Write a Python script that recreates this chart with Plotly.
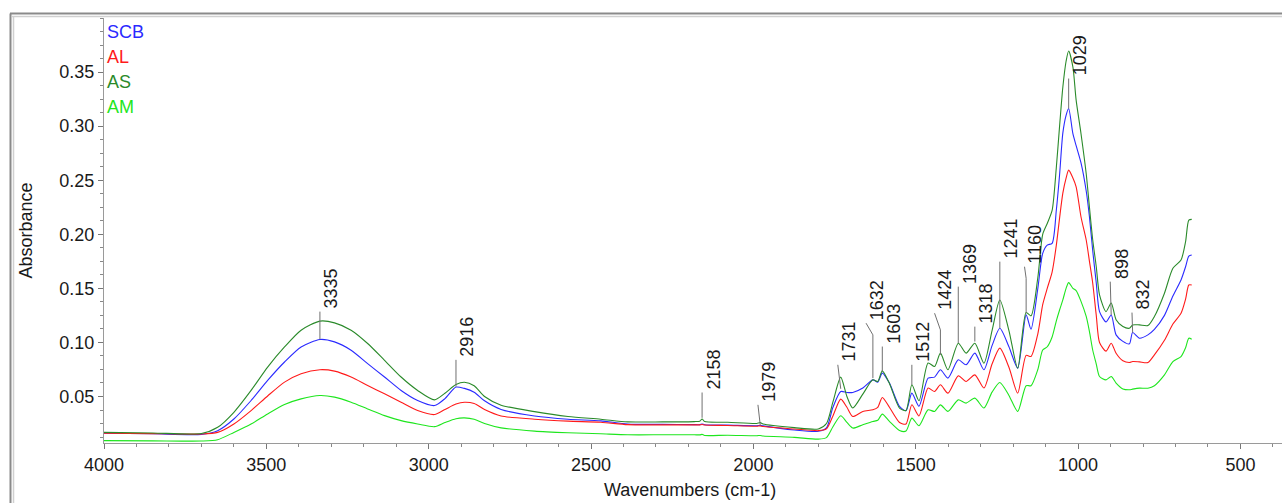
import plotly.graph_objects as go

# ---------------- data ----------------
wavenumber = [4000, 3850, 3700, 3650, 3600, 3547, 3496, 3444, 3393, 3335,
              3290, 3239, 3188, 3136, 3085, 3034, 2982, 2950, 2916, 2890,
              2860, 2828, 2777, 2674, 2571, 2470, 2387, 2280, 2182, 2165,
              2158, 2150, 2079, 1990, 1979, 1970, 1874, 1800, 1775, 1755,
              1731, 1712, 1694, 1663, 1632, 1617, 1603, 1581, 1550, 1530,
              1512, 1490, 1462, 1442, 1424, 1401, 1369, 1345, 1318, 1290,
              1265, 1241, 1213, 1186, 1160, 1145, 1124, 1109, 1095, 1080,
              1067, 1057, 1047, 1037, 1029, 1016, 1006, 991, 975, 965,
              955, 944, 934, 914, 898, 883, 862, 842, 832, 811,
              785, 765, 734, 708, 683, 669, 659, 650]

scb = [0.0160, 0.0155, 0.0150, 0.0184, 0.0292, 0.0463, 0.0649, 0.0819, 0.0958, 0.1027,
       0.1005, 0.0928, 0.0804, 0.0680, 0.0556, 0.0463, 0.0416, 0.0480, 0.0587, 0.0575,
       0.0540, 0.0460, 0.0380, 0.0320, 0.0290, 0.0275, 0.0245, 0.0242, 0.0240, 0.0240,
       0.0246, 0.0238, 0.0235, 0.0230, 0.0233, 0.0228, 0.0190, 0.0178, 0.0210, 0.0400,
       0.0546, 0.0537, 0.0537, 0.0578, 0.0654, 0.0633, 0.0716, 0.0624, 0.0408, 0.0368,
       0.0531, 0.0410, 0.0670, 0.0679, 0.0747, 0.0670, 0.0839, 0.0793, 0.0901, 0.0747,
       0.0970, 0.1131, 0.0960, 0.0762, 0.1255, 0.1122, 0.1500, 0.1824, 0.1900, 0.1916,
       0.2224, 0.2550, 0.2935, 0.3100, 0.3163, 0.2930, 0.2820, 0.2660, 0.2400, 0.2160,
       0.1850, 0.1550, 0.1285, 0.1190, 0.1254, 0.1070, 0.1010, 0.0987, 0.1091, 0.1039,
       0.1070, 0.1120, 0.1250, 0.1430, 0.1578, 0.1700, 0.1799, 0.1808]

al = [0.0160, 0.0157, 0.0153, 0.0168, 0.0246, 0.0370, 0.0505, 0.0633, 0.0711, 0.0748,
      0.0735, 0.0680, 0.0602, 0.0525, 0.0447, 0.0370, 0.0333, 0.0380, 0.0430, 0.0447,
      0.0435, 0.0380, 0.0320, 0.0290, 0.0272, 0.0262, 0.0240, 0.0238, 0.0238, 0.0238,
      0.0241, 0.0236, 0.0232, 0.0225, 0.0228, 0.0222, 0.0200, 0.0184, 0.0200, 0.0320,
      0.0476, 0.0400, 0.0315, 0.0362, 0.0377, 0.0400, 0.0491, 0.0400, 0.0260, 0.0245,
      0.0423, 0.0320, 0.0578, 0.0546, 0.0608, 0.0531, 0.0691, 0.0639, 0.0700, 0.0578,
      0.0800, 0.0947, 0.0770, 0.0531, 0.0880, 0.0870, 0.1080, 0.1350, 0.1500, 0.1650,
      0.1900, 0.2150, 0.2380, 0.2520, 0.2593, 0.2520, 0.2439, 0.2160, 0.1947, 0.1750,
      0.1550, 0.1250, 0.1000, 0.0920, 0.0993, 0.0900, 0.0830, 0.0814, 0.0823, 0.0820,
      0.0814, 0.0885, 0.1020, 0.1170, 0.1270, 0.1400, 0.1531, 0.1531]

as_ = [0.0168, 0.0163, 0.0158, 0.0215, 0.0354, 0.0556, 0.0772, 0.0958, 0.1113, 0.1197,
       0.1181, 0.1113, 0.0990, 0.0835, 0.0680, 0.0556, 0.0469, 0.0530, 0.0610, 0.0632,
       0.0600, 0.0500, 0.0420, 0.0360, 0.0315, 0.0290, 0.0265, 0.0265, 0.0268, 0.0272,
       0.0292, 0.0268, 0.0262, 0.0250, 0.0258, 0.0245, 0.0212, 0.0200, 0.0250, 0.0450,
       0.0679, 0.0500, 0.0393, 0.0522, 0.0654, 0.0639, 0.0737, 0.0620, 0.0393, 0.0371,
       0.0608, 0.0460, 0.0810, 0.0777, 0.0901, 0.0747, 0.0993, 0.0901, 0.0993, 0.0808,
       0.1110, 0.1393, 0.1110, 0.0762, 0.1276, 0.1246, 0.1600, 0.2000, 0.2100, 0.2220,
       0.2620, 0.3000, 0.3360, 0.3600, 0.3695, 0.3547, 0.3240, 0.2930, 0.2560, 0.2250,
       0.1950, 0.1700, 0.1440, 0.1285, 0.1365, 0.1210, 0.1147, 0.1131, 0.1162, 0.1162,
       0.1156, 0.1239, 0.1455, 0.1686, 0.1762, 0.1931, 0.2132, 0.2138]

am = [0.0092, 0.0090, 0.0088, 0.0100, 0.0168, 0.0246, 0.0339, 0.0426, 0.0478, 0.0509,
      0.0494, 0.0447, 0.0385, 0.0323, 0.0277, 0.0246, 0.0221, 0.0260, 0.0295, 0.0302,
      0.0290, 0.0250, 0.0210, 0.0180, 0.0165, 0.0155, 0.0146, 0.0146, 0.0146, 0.0145,
      0.0150, 0.0140, 0.0142, 0.0137, 0.0140, 0.0135, 0.0122, 0.0106, 0.0120, 0.0220,
      0.0322, 0.0260, 0.0208, 0.0239, 0.0269, 0.0280, 0.0337, 0.0270, 0.0186, 0.0180,
      0.0300, 0.0230, 0.0377, 0.0362, 0.0423, 0.0362, 0.0469, 0.0439, 0.0485, 0.0393,
      0.0540, 0.0630, 0.0510, 0.0362, 0.0600, 0.0600, 0.0750, 0.0930, 0.0960, 0.1050,
      0.1200, 0.1300, 0.1393, 0.1500, 0.1553, 0.1500, 0.1480, 0.1380, 0.1240, 0.1100,
      0.0930, 0.0800, 0.0685, 0.0654, 0.0685, 0.0624, 0.0570, 0.0562, 0.0568, 0.0577,
      0.0577, 0.0600, 0.0700, 0.0823, 0.0869, 0.0950, 0.1039, 0.1030]

series_names = ["SCB", "AL", "AS", "AM"]
series_values = [scb, al, as_, am]
series_colors = ["#2a2aff", "#ff1a1a", "#2a8a2a", "#1ee61e"]

# peak labels
peak_labels = ["3335", "2916", "2158", "1979", "1731", "1632", "1603", "1512",
               "1424", "1369", "1318", "1241", "1160", "1029", "898", "832"]
peak_x = [3335, 2916, 2158, 1979, 1731, 1632, 1603, 1512,
          1424, 1369, 1318, 1241, 1160, 1029, 898, 832]
peak_y = [0.1030, 0.0592, 0.0303, 0.0239, 0.0571, 0.0670, 0.0731, 0.0608,
          0.0885, 0.0993, 0.1008, 0.1132, 0.1270, 0.3163, 0.1254, 0.1091]
kink_y = [0.1285, 0.0839, 0.0537, 0.0239, 0.0571, 0.1070, 0.0962, 0.0793,
          0.1116, 0.1516, 0.1146, 0.1747, 0.1593, 0.3440, 0.1254, 0.1091]
top_x = [3335, 2916, 2158, 1986, 1740, 1653, 1603, 1512,
         1442, 1369, 1318, 1241, 1165, 1029, 901, 834]
top_y = [0.1285, 0.0839, 0.0537, 0.0423, 0.0793, 0.1178, 0.0962, 0.0793,
         0.1270, 0.1516, 0.1146, 0.1747, 0.1700, 0.3440, 0.1562, 0.1276]

x_ticks = [4000, 3500, 3000, 2500, 2000, 1500, 1000, 500]
y_ticks = [0.05, 0.10, 0.15, 0.20, 0.25, 0.30, 0.35]

FONT = "Liberation Sans, Arial, sans-serif"

fig = go.Figure()
for name, vals, col in zip(series_names, series_values, series_colors):
    assert len(vals) == len(wavenumber), (name, len(vals), len(wavenumber))
    fig.add_trace(go.Scatter(x=wavenumber, y=vals, mode="lines", name=name,
                             line=dict(color=col, width=1.1, shape="spline", smoothing=0.7),
                             showlegend=False, hoverinfo="x+y+name"))

shapes = []
annotations = []
for lab, px, py, ky, tx, ty in zip(peak_labels, peak_x, peak_y, kink_y, top_x, top_y):
    shapes.append(dict(type="path", xref="x", yref="y",
                       path=f"M {px},{py} L {px},{ky} L {tx},{ty}",
                       line=dict(color="#707070", width=1)))
    annotations.append(dict(x=tx, y=ty, xref="x", yref="y", text=lab, showarrow=False,
                            textangle=-90, xanchor="center", yanchor="bottom",
                            xshift=11, yshift=1,
                            font=dict(family=FONT, size=18, color="#1a1a1a")))

# legend-like coloured labels
L, R, T, B = 104, 0, 18, 60
W, H = 1282, 503
pw, ph = W - L - R, H - T - B
def paper_x(px):
    return (px - L) / pw
def paper_y(py):
    return (H - B - py) / ph

for i, (name, col) in enumerate(zip(series_names, series_colors)):
    annotations.append(dict(x=paper_x(105), y=paper_y(32 + 25 * i), xref="paper", yref="paper",
                            text=name, showarrow=False, xanchor="left", yanchor="middle",
                            font=dict(family=FONT, size=18, color=col)))

annotations.append(dict(x=paper_x(25), y=0.5, xref="paper", yref="paper", text="Absorbance",
                        showarrow=False, textangle=-90, xanchor="center", yanchor="middle",
                        font=dict(family=FONT, size=18, color="#1a1a1a")))
annotations.append(dict(x=paper_x(690), y=paper_y(490), xref="paper", yref="paper",
                        text="Wavenumbers (cm-1)", showarrow=False, xanchor="center",
                        yanchor="middle", font=dict(family=FONT, size=18, color="#1a1a1a")))

# window-like frame
shapes.append(dict(type="line", xref="paper", yref="paper", x0=paper_x(10), x1=paper_x(1282),
                   y0=paper_y(13.5), y1=paper_y(13.5), line=dict(color="#8a8a8a", width=2)))
shapes.append(dict(type="line", xref="paper", yref="paper", x0=paper_x(12), x1=paper_x(1282),
                   y0=paper_y(16.5), y1=paper_y(16.5), line=dict(color="#d0d0d0", width=1.5)))
shapes.append(dict(type="line", xref="paper", yref="paper", x0=paper_x(10.5), x1=paper_x(10.5),
                   y0=paper_y(13.5), y1=paper_y(503), line=dict(color="#8a8a8a", width=2)))
shapes.append(dict(type="line", xref="paper", yref="paper", x0=paper_x(13.5), x1=paper_x(13.5),
                   y0=paper_y(16.5), y1=paper_y(503), line=dict(color="#d0d0d0", width=1.5)))

fig.update_layout(
    width=W, height=H,
    margin=dict(l=L, r=R, t=T, b=B, pad=0),
    paper_bgcolor="white", plot_bgcolor="white",
    font=dict(family=FONT, size=18, color="#1a1a1a"),
    shapes=shapes, annotations=annotations,
    xaxis=dict(range=[4000, 372], tickvals=x_ticks, ticktext=[str(v) for v in x_ticks],
               showgrid=False, zeroline=False, showline=True, linecolor="#9a9a9a", linewidth=1,
               ticks="outside", ticklen=5, tickcolor="#777", tickwidth=1,
               minor=dict(dtick=100, tick0=0, ticks="outside", ticklen=3, tickcolor="#888", showgrid=False),
               tickfont=dict(family=FONT, size=18, color="#1a1a1a")),
    yaxis=dict(range=[0.007, 0.400], tickvals=y_ticks, ticktext=[f"{v:.2f}" for v in y_ticks],
               showgrid=False, zeroline=False, showline=True, linecolor="#9a9a9a", linewidth=1,
               ticks="outside", ticklen=5, tickcolor="#777", tickwidth=1,
               minor=dict(dtick=0.0125, tick0=0, ticks="outside", ticklen=3, tickcolor="#888", showgrid=False),
               tickfont=dict(family=FONT, size=18, color="#1a1a1a")),
)

fig.write_html("out.html")
